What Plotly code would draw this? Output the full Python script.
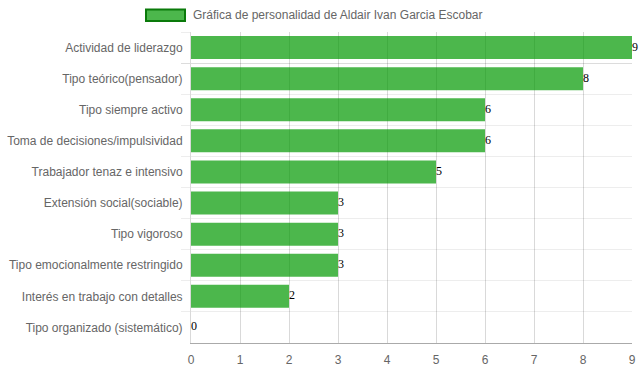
import plotly.graph_objects as go

categories = [
    "Actividad de liderazgo",
    "Tipo teórico(pensador)",
    "Tipo siempre activo",
    "Toma de decisiones/impulsividad",
    "Trabajador tenaz e intensivo",
    "Extensión social(sociable)",
    "Tipo vigoroso",
    "Tipo emocionalmente restringido",
    "Interés en trabajo con detalles",
    "Tipo organizado (sistemático)",
]
values = [9, 8, 6, 6, 5, 3, 3, 3, 2, 0]
x_ticks = [0, 1, 2, 3, 4, 5, 6, 7, 8, 9]
series_name = "Gráfica de personalidad de Aldair Ivan Garcia Escobar"

W, H = 639, 372
PL, PR, PT, PB = 191, 632, 32, 343          # plot area in page pixels
L, R, T, B = PL, W - PR, PT, H - PB
pw, ph = PR - PL, PB - PT

def px_x(px):
    return (px - PL) / pw

def px_y(py):
    return (PB - py) / ph

fig = go.Figure()
fig.add_trace(go.Bar(
    x=values, y=categories, orientation="h",
    marker=dict(color="rgba(0,153,0,0.7)", line=dict(width=0)),
    width=0.74, showlegend=False, hoverinfo="x+y",
))
fig.add_trace(go.Scatter(
    x=values, y=categories, mode="text",
    text=[str(v) for v in values], textposition="middle right",
    textfont=dict(family="Liberation Serif, Times New Roman, serif", size=12, color="#000"),
    showlegend=False, cliponaxis=False, hoverinfo="skip",
))

# custom legend (Chart.js style)
fig.add_shape(type="rect", xref="paper", yref="paper",
              x0=px_x(146), x1=px_x(185), y0=px_y(21), y1=px_y(9.5),
              fillcolor="rgba(0,153,0,0.7)", line=dict(color="#0a7a0a", width=2))
fig.add_annotation(xref="paper", yref="paper", x=px_x(191), y=px_y(14.5),
                   xanchor="left", yanchor="middle", showarrow=False,
                   text=series_name,
                   font=dict(family="Liberation Sans, Arial, sans-serif", size=12, color="#666"))

fig.update_layout(
    width=W, height=H,
    margin=dict(l=L, r=R, t=T, b=B, pad=0, autoexpand=False),
    paper_bgcolor="white", plot_bgcolor="white",
    font=dict(family="Liberation Sans, Arial, sans-serif", size=12, color="#666"),
    bargap=0.26,
    xaxis=dict(
        range=[0, 9], tickmode="array", tickvals=x_ticks,
        showgrid=True, gridcolor="rgba(0,0,0,0.15)", gridwidth=1,
        zeroline=False, showline=True, linecolor="#aaa", linewidth=1,
        ticks="", ticklabelstandoff=6, tickfont=dict(size=12, color="#666"),
        fixedrange=True, automargin=False,
    ),
    yaxis=dict(
        type="category", autorange="reversed", tickson="boundaries",
        showgrid=True, gridcolor="rgba(0,0,0,0.07)", gridwidth=1,
        ticks="outside", ticklen=9, tickcolor="rgba(0,0,0,0.07)",
        showline=True, linecolor="rgba(0,0,0,0.15)", linewidth=1,
        ticklabelstandoff=5, tickfont=dict(size=12, color="#666"),
        fixedrange=True, automargin=False,
    ),
)

fig.write_html("out.html",
               config={"displayModeBar": False},
               post_script="document.body.style.margin='0';document.body.style.overflow='hidden';")
